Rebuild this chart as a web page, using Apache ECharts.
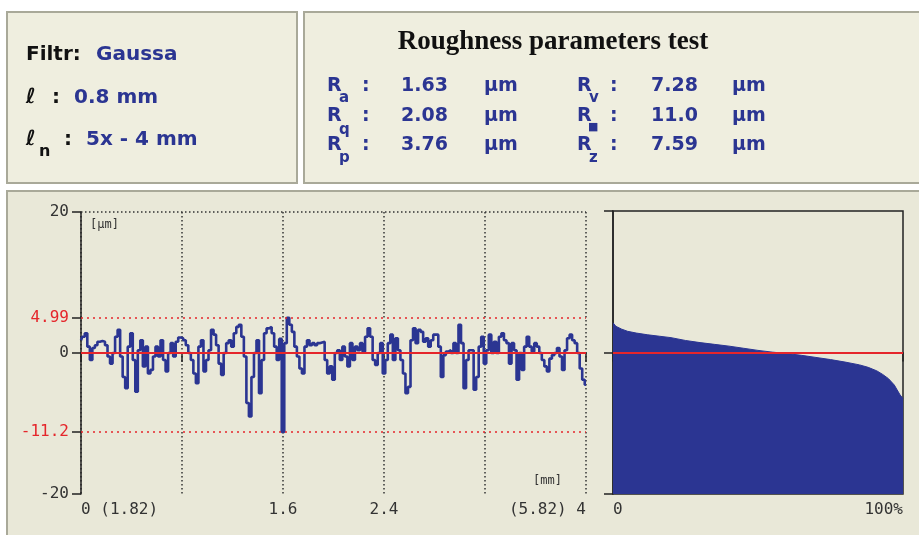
<!DOCTYPE html>
<html>
<head>
<meta charset="utf-8">
<script src="https://cdn.jsdelivr.net/npm/echarts@6/dist/echarts.min.js"></script>
<style>
html,body{margin:0;padding:0;background:#fff;}
#c{width:919px;height:535px;}
</style>
</head>
<body>
<div id="c"></div>
<script>
// ---- data ----
const profileStep = 0.02; // mm between samples
const profile = [
1.8,2.3,2.8,0.9,-1.0,0.7,1.1,1.6,1.7,1.6,1.1,-0.5,-1.5,0,2.3,3.3,-0.5,-3.4,-5.0,0.9,2.8,-1.0,-5.5,0.4,1.8,-1.9,0.9,-2.9,-2.4,-0.5,0.9,-0.5,1.8,-1.0,-2.6,0,1.4,-0.5,1.6,2.2,2.1,
1.8,1.1,0,-1.0,-2.9,-4.3,0.9,1.8,-2.6,-1.0,0.4,3.3,2.6,1.1,-1.5,-3.1,0,1.4,1.8,0.9,2.8,3.7,4.0,2.3,-0.5,-7.1,-9.0,-3.4,0,1.8,-5.7,-1.0,2.8,3.5,3.7,2.8,0.9,-1.0,2.0,-11.2,
1.4,4.99,4.0,3.0,0.9,-0.5,-2.2,-2.9,0.9,1.8,1.1,1.4,1.1,1.4,1.5,1.6,-1.0,-2.9,-1.9,-3.8,0,0.4,-1.0,0.9,-0.5,-1.9,1.4,-1.0,0.9,0.4,1.4,0.2,2.3,3.5,2.3,-1.0,-1.7,0,1.4,-2.9,
-1.0,1.4,2.6,-1.0,2.1,0.4,-1.0,-2.9,-5.7,-4.8,1.8,3.5,1.4,3.3,3.0,1.6,2.1,0.9,1.8,2.6,2.6,0.9,-3.4,-0.3,0.2,0.4,0,1.4,0,4.0,1.4,-5.0,-1.0,0.4,0.4,-5.2,-3.4,0.9,2.3,-1.5,
0.4,2.6,0,1.6,0,2.3,2.8,1.8,1.4,-1.5,1.4,0.4,-3.8,0,-2.4,0.9,2.3,0.9,0.2,1.4,0.9,0,-1.0,-1.9,-2.6,-0.8,-0.3,0,0.7,-0.5,-2.4,0.4,2.1,2.6,1.8,1.4,0,-2.2,-3.8,-4.5
];
const bearingPct = [0,1,3,5,8,12,16,20,25,30,35,40,45,50,55,60,65,70,75,80,85,88,91,93,95,97,98,99,100];
const bearingVal = [4.2,3.7,3.3,3.0,2.75,2.5,2.3,2.1,1.7,1.4,1.15,0.9,0.6,0.3,0.05,-0.15,-0.4,-0.7,-1.0,-1.35,-1.75,-2.1,-2.6,-3.1,-3.7,-4.6,-5.3,-6.0,-6.5];
const yTickValues = [20, 4.99, 0, -11.2, -20];
const redLevels = [4.99, -11.2];
const xLabels = {0:'0 (1.82)', 0.8:'', 1.6:'1.6', 2.4:'2.4', 3.2:'', 4:'(5.82) 4'};
const filterInfo = {filter:'Gaussa', cutoff:'0.8 mm', length:'5x - 4 mm'};
const title = 'Roughness parameters test';
const paramsLeft = [['R','a','1.63'],['R','q','2.08'],['R','p','3.76']];
const paramsRight = [['R','v','7.28'],['R','■','11.0'],['R','z','7.59']];
const unit = 'μm';

// ---- styling ----
const BLUE = '#2B3592';
const RED = '#E5262B';
const PANEL = '#EFEEDF';
const PLOT = '#E9E8D8';
const BORDER = '#A9A999';
const MONO = '"DejaVu Sans Mono", monospace';
const SANS = '"DejaVu Sans", sans-serif';

const chart = echarts.init(document.getElementById('c'), null, {renderer:'canvas'});

function txt(x, y, text, opts) {
  opts = opts || {};
  return {type:'text', x:x, y:y, z:20, silent:true,
    style:{text:text, fill:opts.fill||BLUE, font:(opts.weight||'bold')+' '+(opts.size||19)+'px '+(opts.family||SANS),
      textAlign:opts.align||'left', textVerticalAlign:'middle'}};
}

const graphics = [
  {type:'rect', z:-10, shape:{x:7,y:12,width:290,height:171}, style:{fill:PANEL, stroke:BORDER, lineWidth:2}},
  {type:'rect', z:-10, shape:{x:304,y:12,width:630,height:171}, style:{fill:PANEL, stroke:BORDER, lineWidth:2}},
  {type:'rect', z:-10, shape:{x:7,y:191,width:930,height:360}, style:{fill:PLOT, stroke:BORDER, lineWidth:2}},
  txt(26, 55, 'Filtr:', {fill:'#111', size:20}),
  txt(96, 55, filterInfo.filter, {size:20}),
  txt(26, 98, 'ℓ', {fill:'#111', size:21}),
  txt(52, 98, ':', {fill:'#111', size:20}),
  txt(74, 98, filterInfo.cutoff, {size:20}),
  txt(26, 140, 'ℓ', {fill:'#111', size:21}),
  txt(39, 152, 'n', {fill:'#111', size:16}),
  txt(64, 140, ':', {fill:'#111', size:20}),
  txt(86, 140, filterInfo.length, {size:20}),
  {type:'text', x:553, y:42, z:20, silent:true, style:{text:title, fill:'#111', font:'bold 27px "Liberation Serif", serif', textAlign:'center', textVerticalAlign:'middle'}},
  txt(90, 225, '[μm]', {fill:'#333', size:12, family:MONO, weight:'normal'}),
  txt(533, 481, '[mm]', {fill:'#333', size:12, family:MONO, weight:'normal'})
];
const rowY = [86, 116, 145];
const subDy = [12, 14, 13];
function paramBlock(list, xR, xColon, xValEnd, xUnit) {
  list.forEach(function(p, i){
    graphics.push(txt(xR, rowY[i], p[0]));
    if (p[1] === '■') graphics.push(txt(xR+11, rowY[i]+11, p[1], {size:11}));
    else graphics.push(txt(xR+12, rowY[i]+subDy[i], p[1], {size:15}));
    graphics.push(txt(xColon, rowY[i], ':'));
    graphics.push(txt(xValEnd, rowY[i], p[2], {align:'right'}));
    graphics.push(txt(xUnit, rowY[i], unit));
  });
}
paramBlock(paramsLeft, 327, 362, 448, 484);
paramBlock(paramsRight, 577, 610, 698, 732);

const profileData = profile.map(function(v, i){ return [+(i*profileStep).toFixed(3), v]; });
const bearingData = bearingPct.map(function(p, i){ return [p, bearingVal[i]]; });

const option = {
  backgroundColor:'#fff',
  animation:false,
  graphic: graphics,
  grid:[
    {left:81, top:212, width:505, height:282, show:false},
    {left:613, top:211, width:290, height:283, show:true, borderColor:'#222', borderWidth:1.5, backgroundColor:'transparent'}
  ],
  xAxis:[
    {gridIndex:0, type:'value', min:0, max:4, interval:0.8,
     axisLine:{lineStyle:{color:'#222', width:1.5}},
     axisTick:{inside:false, length:9, lineStyle:{color:'#222', width:1.5}},
     axisLabel:{margin:8, color:'#333', fontFamily:MONO, fontSize:16, alignMinLabel:'left', alignMaxLabel:'right',
       formatter:function(v){ const k = Math.round(v*10)/10; return xLabels[k] !== undefined ? xLabels[k] : ''; }},
     splitLine:{show:true, lineStyle:{color:'#333', type:[1.5,2.5], width:1.5}}},
    {gridIndex:1, type:'value', min:0, max:100, interval:100,
     axisLine:{lineStyle:{color:'#222', width:1.5}},
     axisTick:{length:9, lineStyle:{color:'#222', width:1.5}},
     axisLabel:{margin:8, color:'#333', fontFamily:MONO, fontSize:16, alignMinLabel:'left', alignMaxLabel:'right',
       formatter:function(v){ return v === 100 ? '100%' : '0'; }},
     splitLine:{show:false}}
  ],
  yAxis:[
    {gridIndex:0, type:'value', min:-20, max:20,
     axisLine:{show:true, lineStyle:{color:'#222', width:1.5}},
     axisTick:{show:true, length:9, customValues:yTickValues, lineStyle:{color:'#222', width:1.5}},
     axisLabel:{margin:12, customValues:yTickValues, fontFamily:MONO, fontSize:16, color:'#333',
       formatter:function(v){ return redLevels.indexOf(v) >= 0 ? '{r|'+v+'}' : String(v); },
       rich:{r:{color:RED, fontFamily:MONO, fontSize:16}}},
     splitLine:{show:false}},
    {gridIndex:1, type:'value', min:-20, max:20, interval:20,
     axisLine:{show:true, lineStyle:{color:'#222', width:1.5}},
     axisTick:{show:true, length:9, lineStyle:{color:'#222', width:1.5}},
     axisLabel:{show:false}, splitLine:{show:false}}
  ],
  series:[
    {type:'line', xAxisIndex:0, yAxisIndex:0, data:profileData, symbol:'none', step:'middle',
     lineStyle:{color:BLUE, width:2.6}, z:3,
     markLine:{silent:true, symbol:'none', label:{show:false}, animation:false,
       data:[
         {yAxis:20, lineStyle:{color:'#333', type:[1.5,2.5], width:1.5}},
         {yAxis:4.99, lineStyle:{color:RED, type:[2,4], width:1.5}},
         {yAxis:-11.2, lineStyle:{color:RED, type:[2,4], width:1.5}},
         {yAxis:0, lineStyle:{color:RED, type:'solid', width:2}}
       ]}},
    {type:'line', xAxisIndex:1, yAxisIndex:1, data:bearingData, symbol:'none', smooth:false,
     lineStyle:{color:BLUE, width:1}, areaStyle:{color:BLUE, opacity:1, origin:'start'}, z:3,
     markLine:{silent:true, symbol:'none', label:{show:false}, animation:false,
       data:[{yAxis:0, lineStyle:{color:RED, type:'solid', width:2}}]}}
  ]
};
chart.setOption(option);
</script>
</body>
</html>
